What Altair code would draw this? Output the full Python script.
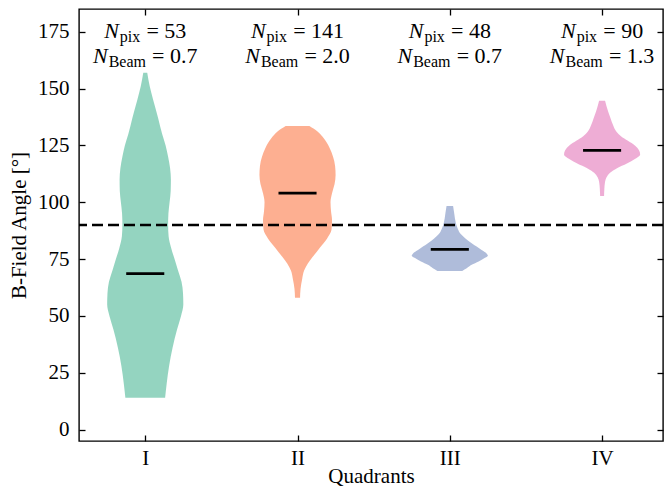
import json
import altair as alt
import pandas as pd

# ---------------- data ----------------
quadrants = ["I", "II", "III", "IV"]
positions = [1, 2, 3, 4]
colors = ["#66c2a5", "#fc8d62", "#8da0cb", "#e78ac3"]
medians = [68.6, 104.0, 79.3, 122.8]
n_pix = ["53", "141", "48", "90"]
n_beam = ["0.7", "2.0", "0.7", "1.3"]
y_ticks = [0, 25, 50, 75, 100, 125, 150, 175]

# violin outlines: angle (deg) and relative density
v1_angle = [14, 20, 28, 36, 44, 50, 55, 60, 65, 70, 75, 80, 85, 90, 95, 100, 105, 110, 115, 120,
            125, 130, 137, 145, 151, 157]
v1_dens = [20, 21.5, 24, 27.5, 32, 36, 38.3, 38, 36.5, 33, 29.5, 26, 23.5, 23, 23.3, 24.5, 25.6,
           25.8, 25, 23, 20.5, 17, 13, 8, 4.5, 2]

v2_angle = [58, 62, 66, 70, 73, 76, 80, 84, 88, 92, 96, 100, 104, 108, 112, 116, 120, 124, 128,
            131, 133.5]
v2_dens = [2.5, 3, 4.5, 6.5, 10, 15, 22, 29, 33.5, 34, 33, 32.5, 34, 36.5, 37.5, 37, 35, 31.5, 26,
           20, 11.7]

v3_angle = [69.8, 71, 72.5, 74, 75.5, 76.5, 77.5, 79, 80.5, 82, 84, 86, 88.4, 91, 95, 98.4]
v3_dens = [12.5, 17, 22, 29, 35, 38.3, 37, 32, 27, 22, 16, 11, 8, 6, 4.5, 3.3]

v4_angle = [102.8, 106, 109, 111, 113, 115, 117, 119, 121, 123, 125, 127, 129, 131, 134, 137, 140,
            144.7]
v4_dens = [2, 2.3, 3, 4.5, 8, 15, 25, 33, 38.3, 37, 33, 26, 19, 14.5, 11, 8.5, 6, 3]

profiles = [(v1_angle, v1_dens), (v2_angle, v2_dens), (v3_angle, v3_dens), (v4_angle, v4_dens)]

# ---------------- tables ----------------
HALF_WIDTH = 0.25  # matplotlib violin default width 0.5
rows = []
for q, pos, (ang, dens) in zip(quadrants, positions, profiles):
    m = max(dens)
    for a, d in zip(ang, dens):
        hw = HALF_WIDTH * d / m
        rows.append({"quadrant": q, "angle": a, "lo": pos - hw, "hi": pos + hw})
vdf = pd.DataFrame(rows).sort_values(["quadrant", "angle"])

mdf = pd.DataFrame({"quadrant": quadrants, "pos": positions, "median": medians})
mdf["lo"] = mdf["pos"] - HALF_WIDTH / 2
mdf["hi"] = mdf["pos"] + HALF_WIDTH / 2

W, H = 584, 432
FONT = "Liberation Serif"
FS = 21
AFS = 22
SUB = 16
xscale = alt.Scale(domain=[0.565, 4.40], nice=False, zero=False)
yscale = alt.Scale(domain=[-5, 185], nice=False, zero=False)

label_expr = json.dumps([""] + quadrants) + "[datum.value]"

common_axis = dict(offset=-6, tickSize=6, domain=False, grid=False,
                   tickColor="black", tickWidth=1.3)

violins = alt.Chart(vdf).mark_area(orient="horizontal", interpolate="monotone", opacity=0.7).encode(
    y=alt.Y("angle:Q", scale=yscale,
            axis=alt.Axis(orient="left", values=y_ticks, labelPadding=10, title="B-Field Angle [°]",
                          titlePadding=8, **common_axis)),
    x=alt.X("lo:Q", scale=xscale,
            axis=alt.Axis(orient="bottom", values=positions, labelExpr=label_expr, labelPadding=6,
                          title="Quadrants", titleBaseline="alphabetic", titleY=47,
                          **common_axis)),
    x2="hi:Q",
    color=alt.Color("quadrant:N", scale=alt.Scale(domain=quadrants, range=colors), legend=None),
    detail="quadrant:N",
)

median_rules = alt.Chart(mdf).mark_rule(color="black", strokeWidth=2.6).encode(
    x=alt.X("lo:Q", scale=xscale,
            axis=alt.Axis(orient="top", values=positions, labels=False, title=None, **common_axis)),
    x2="hi:Q",
    y=alt.Y("median:Q", scale=yscale,
            axis=alt.Axis(orient="right", values=y_ticks, labels=False, title=None, **common_axis)),
)

ref_line = alt.Chart(pd.DataFrame({"ref": [90]})).mark_rule(
    color="black", strokeWidth=2.5, strokeDash=[11, 5]
).encode(y=alt.Y("ref:Q", scale=yscale, axis=None))

# ---------------- annotations ----------------
CHAR_W = {"0": .5, "1": .5, "2": .5, "3": .5, "4": .5, "5": .5, "6": .5, "7": .5, "8": .5, "9": .5,
          ".": .25, "=": .564, " ": .25, "p": .5, "i": .278, "x": .5, "B": .667, "e": .444,
          "a": .444, "m": .778, "N": .667}


def tw(s, size):
    return sum(CHAR_W.get(c, 0.5) for c in s) * size


text_layers = []
for pos, npx, nbm in zip(positions, n_pix, n_beam):
    for sub, val, ybase in (("pix", npx, 29), ("Beam", nbm, 54)):
        eq = "= " + val
        wN = tw("N", AFS) + 1
        wsub = tw(sub, SUB)
        gap = 0.28 * AFS
        total = wN + wsub + gap + tw(eq, AFS)
        start = -total / 2
        pieces = [
            ("N", start, 0, AFS, "italic"),
            (sub, start + wN, 4, SUB, "normal"),
            (eq, start + wN + wsub + gap, 0, AFS, "normal"),
        ]
        for txt, dx, dy, size, style in pieces:
            text_layers.append(
                alt.Chart(pd.DataFrame({"pos": [pos], "label": [txt]})).mark_text(
                    align="left", baseline="alphabetic", dx=dx, dy=dy, fontSize=size,
                    fontStyle=style, font=FONT, color="black"
                ).encode(
                    x=alt.X("pos:Q", scale=xscale, axis=None),
                    y=alt.value(ybase),
                    text="label:N",
                )
            )

chart = alt.layer(violins, median_rules, ref_line, *text_layers).resolve_axis(
    x="independent", y="independent"
).properties(
    width=W, height=H,
    autosize=alt.AutoSizeParams(type="none"),
    padding={"left": 71, "top": 1, "right": 1, "bottom": 46},
).configure_view(
    stroke="black", strokeWidth=1.4
).configure_axis(
    labelFont=FONT, titleFont=FONT, labelFontSize=FS, titleFontSize=FS,
    labelColor="black", titleColor="black", titleFontWeight="normal",
)

chart.save("out.html", embed_options={"renderer": "svg", "actions": False})
